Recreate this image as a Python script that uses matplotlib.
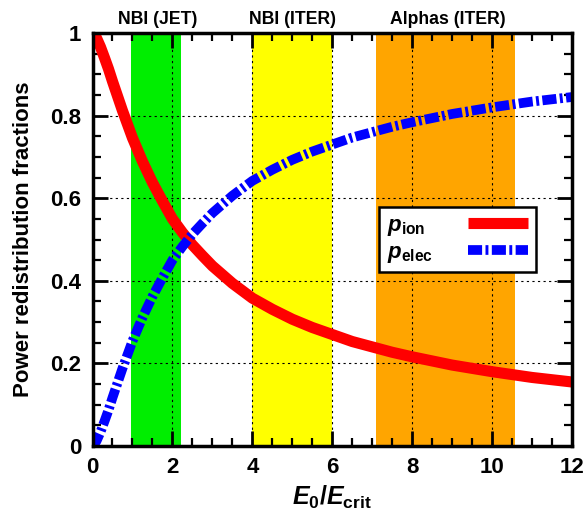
import matplotlib
matplotlib.use('Agg')
import matplotlib.pyplot as plt
from matplotlib.ticker import MultipleLocator

plt.rcParams['font.family'] = ['Liberation Sans', 'DejaVu Sans']
plt.rcParams['font.weight'] = 'bold'
plt.rcParams['mathtext.fontset'] = 'custom'
plt.rcParams['mathtext.rm'] = 'Liberation Sans:bold'
plt.rcParams['mathtext.it'] = 'Liberation Sans:bold:italic'
plt.rcParams['mathtext.bf'] = 'Liberation Sans:bold'

# data
energy = [0, 0.05, 0.1, 0.2, 0.3, 0.4, 0.5, 0.75, 1.0, 1.25, 1.5, 1.75, 2.0,
          2.25, 2.5, 2.75, 3.0, 3.5, 4.0, 4.5, 5.0, 5.5, 6.0, 6.5, 7.0, 7.5,
          8.0, 9.0, 10.0, 11.0, 12.0]
p_ion = [1.0, 0.995, 0.988, 0.966, 0.940, 0.913, 0.883, 0.812, 0.746, 0.689,
         0.638, 0.593, 0.550, 0.517, 0.487, 0.461, 0.436, 0.394, 0.358, 0.331,
         0.307, 0.287, 0.270, 0.253, 0.240, 0.227, 0.216, 0.196, 0.180, 0.166,
         0.155]
p_elec = [0.0, 0.005, 0.012, 0.034, 0.060, 0.087, 0.117, 0.188, 0.254, 0.311,
          0.362, 0.407, 0.450, 0.483, 0.513, 0.539, 0.564, 0.606, 0.642, 0.669,
          0.693, 0.713, 0.730, 0.747, 0.760, 0.773, 0.784, 0.804, 0.820, 0.834,
          0.845]

band_names = ['NBI (JET)', 'NBI (ITER)', 'Alphas (ITER)']
band_lo = [0.96, 4.0, 7.1]
band_hi = [2.22, 6.0, 10.58]
band_label_x = [1.64, 5.0, 8.88]
band_colors = ['#00ee00', '#ffff00', '#ffa500']

fig = plt.figure(figsize=(5.87, 5.20), dpi=100)
ax = fig.add_axes([0.1576, 0.1423, 0.8168, 0.7942])

for name, lo, hi, lx, c in zip(band_names, band_lo, band_hi, band_label_x, band_colors):
    ax.axvspan(lo, hi, color=c, lw=0, zorder=0.3)
    ax.text(lx, 1.013, name, ha='center', va='bottom', fontsize=12.7,
            fontweight='bold', transform=ax.get_xaxis_transform())

ax.plot(energy, p_ion, color='red', lw=8, solid_capstyle='butt', zorder=2,
        label=r'$p_{\rm ion}$')
ax.plot(energy, p_elec, color='blue', lw=7, dashes=(1.45, 0.35, 0.3, 0.35),
        dash_capstyle='butt', zorder=2.1, label=r'$p_{\rm elec}$')

ax.set_xlim(0, 12)
ax.set_ylim(0, 1)
ax.set_xticks([0, 2, 4, 6, 8, 10, 12])
ax.set_xticklabels(['0', '2', '4', '6', '8', '10', '12'])
ax.set_yticks([0, 0.2, 0.4, 0.6, 0.8, 1.0])
ax.set_yticklabels(['0', '0.2', '0.4', '0.6', '0.8', '1'])
ax.xaxis.set_minor_locator(MultipleLocator(0.5))
ax.yaxis.set_minor_locator(MultipleLocator(0.05))

ax.tick_params(which='both', direction='in', top=True, right=True,
               labelsize=16, pad=8)
ax.tick_params(which='major', length=11, width=2)
ax.tick_params(which='minor', length=6, width=1.6)
for s in ax.spines.values():
    s.set_linewidth(2.5)

ax.set_axisbelow(True)
ax.grid(True, which='major', color='black', linestyle=(0, (2, 3)), lw=0.8)

ax.set_xlabel(r'$E_0/E_{\rm crit}$', fontsize=18, labelpad=4)
ax.set_ylabel('Power redistribution fractions', fontsize=16, fontweight='bold',
              labelpad=12)

leg = ax.legend(loc='upper left', bbox_to_anchor=(0.597, 0.579), fontsize=16,
                handlelength=2.7, handletextpad=1.6, borderpad=0.35,
                borderaxespad=0, labelspacing=0.18, fancybox=False, framealpha=1,
                edgecolor='black', markerfirst=False)
leg.get_frame().set_linewidth(1.8)

# left-align the labels while keeping the line samples lined up
fig.canvas.draw()
widths = [t.get_window_extent().width for t in leg.get_texts()]
col = leg._legend_handle_box.get_children()[0]
col.align = 'left'
for row, w in zip(col.get_children(), widths):
    row.sep += (max(widths) - w) * 72 / fig.dpi

fig.savefig('out.png', dpi=100)
